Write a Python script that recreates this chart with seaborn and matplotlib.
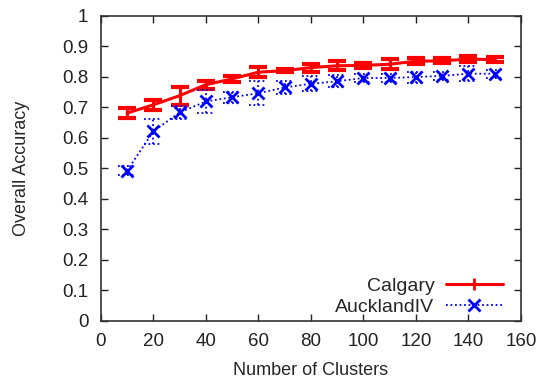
import numpy as np
import pandas as pd
import matplotlib
matplotlib.use('Agg')
import matplotlib.pyplot as plt
from matplotlib.lines import Line2D
import seaborn as sns

# Values
clusters = [10, 20, 30, 40, 50, 60, 70, 80, 90, 100, 110, 120, 130, 140, 150]
calgary = [0.681, 0.708, 0.738, 0.774, 0.793, 0.815, 0.820, 0.830, 0.836, 0.837, 0.841, 0.851, 0.852, 0.858, 0.856]
calgary_err = [0.015, 0.016, 0.030, 0.013, 0.010, 0.016, 0.006, 0.013, 0.015, 0.009, 0.016, 0.009, 0.008, 0.009, 0.009]
auckland = [0.492, 0.621, 0.683, 0.719, 0.733, 0.746, 0.765, 0.777, 0.785, 0.796, 0.796, 0.799, 0.803, 0.810, 0.810]
auckland_err = [0.014, 0.040, 0.020, 0.038, 0.018, 0.040, 0.022, 0.025, 0.020, 0.013, 0.014, 0.018, 0.013, 0.024, 0.013]

df = pd.DataFrame({'clusters': clusters, 'Calgary': calgary, 'AucklandIV': auckland})

sns.set_style('ticks')
plt.rcParams['font.family'] = ['Liberation Sans', 'DejaVu Sans']

fig = plt.figure(figsize=(5.42, 3.83), dpi=100)
ax = fig.add_axes([0.186, 0.162, 0.775, 0.797])

red = '#ff0000'
blue = '#0000ff'
dots = (0, (1, 1.5))

# Calgary: solid red line with error bars
sns.lineplot(data=df, x='clusters', y='Calgary', ax=ax, color=red, linewidth=2.2, legend=False)
ax.errorbar(clusters, calgary, yerr=calgary_err, fmt='none', ecolor=red,
            elinewidth=2.2, capsize=6.5, capthick=3)

# AucklandIV: dotted blue line with x markers and dotted error bars
sns.lineplot(data=df, x='clusters', y='AucklandIV', ax=ax, color=blue, linewidth=1.3,
             linestyle=dots, marker='x', markersize=8, markeredgewidth=2,
             markeredgecolor=blue, legend=False)
cl = np.array(clusters)
au = np.array(auckland)
ae = np.array(auckland_err)
cap = 3.4
ax.vlines(cl, au - ae, au + ae, colors=blue, linewidth=1.3, linestyles=[dots])
ax.hlines(au - ae, cl - cap, cl + cap, colors=blue, linewidth=1.3, linestyles=[dots])
ax.hlines(au + ae, cl - cap, cl + cap, colors=blue, linewidth=1.3, linestyles=[dots])

ax.set_xlim(0, 160)
ax.set_ylim(0, 1)
ax.set_xticks(np.arange(0, 161, 20))
ax.set_yticks(np.arange(0, 1.01, 0.1))
ax.set_yticklabels(['0', '0.1', '0.2', '0.3', '0.4', '0.5', '0.6', '0.7', '0.8', '0.9', '1'])
ax.tick_params(direction='in', top=True, right=True, length=5, width=1,
               labelsize=13.5, colors='#222222')
ax.tick_params(axis='x', pad=9)
ax.tick_params(axis='y', pad=9)
for s in ax.spines.values():
    s.set_linewidth(1.2)
    s.set_color('#333333')

ax.set_xlabel('Number of Clusters', fontsize=13, labelpad=8)
ax.set_ylabel('Overall Accuracy', fontsize=13, labelpad=23)

handles = [
    Line2D([], [], color=red, linewidth=2.2, marker='|', markersize=9, markeredgewidth=2),
    Line2D([], [], color=blue, linewidth=1.3, linestyle=dots, marker='x',
           markersize=8, markeredgewidth=2),
]
ax.legend(handles, ['Calgary', 'AucklandIV'], loc='lower right', frameon=False,
          markerfirst=False, fontsize=14, handlelength=2.9, handletextpad=0.6,
          labelspacing=0.2, borderaxespad=0.0, bbox_to_anchor=(0.975, -0.01))

fig.savefig('out.png', dpi=100)
